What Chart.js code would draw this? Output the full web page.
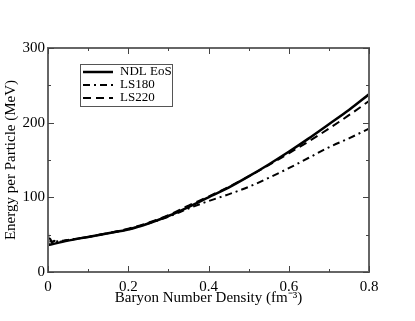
<!DOCTYPE html>
<html>
<head>
<meta charset="utf-8">
<script src="https://cdn.jsdelivr.net/npm/chart.js@4.4.0/dist/chart.umd.min.js"></script>
<style>
    html, body { margin: 0; padding: 0; background: #fff; }
    #wrap { width: 415px; height: 321px; }
</style>
</head>
<body>
<div id="wrap"><canvas id="line-chart"></canvas></div>
<script>
    // Data
    var density = [0, 0.05, 0.1, 0.15, 0.2, 0.25, 0.3, 0.35, 0.4, 0.45, 0.5, 0.55, 0.6, 0.65, 0.7, 0.75, 0.8];
    var ndlEos = [36, 42, 47, 52, 57, 65, 75, 87, 100, 113, 128, 144, 161, 179, 198, 217, 238];
    var ls180 = [38, 43, 47, 52, 57, 65, 74, 85, 95, 104, 114, 126, 139, 153, 167, 179, 192];
    var ls220 = [38, 43, 47, 52, 58, 66, 76, 89, 101, 114, 128, 143, 159, 175, 192, 210, 229];
    // very low density wiggle of the LS curves
    var lowDensity = [0, 0.002, 0.005, 0.01, 0.015, 0.02];
    var ls180Low = [53, 37, 45, 40, 43, 41];
    var ls220Low = [50, 38, 43, 39, 42, 40];
    var xTicks = [0, 0.2, 0.4, 0.6, 0.8];
    var yTicks = [0, 100, 200, 300];

    function toPoints(xs, ys) {
        return xs.map(function (x, i) { return { x: x, y: ys[i] }; });
    }

    var serif = "'Liberation Serif', 'Times New Roman', serif";
    Chart.defaults.font.family = serif;
    Chart.defaults.color = "#000";

    // frame, inward ticks and legend box
    var framePlugin = {
        id: "frame",
        afterDatasetsDraw: function (chart) {
            var ctx = chart.ctx, a = chart.chartArea;
            var xs = chart.scales.x, ys = chart.scales.y;
            ctx.save();
            ctx.strokeStyle = "#666";
            ctx.lineWidth = 2;
            ctx.strokeRect(a.left, a.top, a.right - a.left, a.bottom - a.top);
            ctx.lineWidth = 1;
            ctx.strokeStyle = "#444";
            for (var i = 0; i <= 8; i++) {
                var px = Math.round(xs.getPixelForValue(i / 10)) + 0.5;
                var len = i % 2 === 0 ? 6 : 3;
                ctx.beginPath();
                ctx.moveTo(px, a.bottom); ctx.lineTo(px, a.bottom - len);
                ctx.moveTo(px, a.top); ctx.lineTo(px, a.top + len);
                ctx.stroke();
            }
            for (var j = 0; j <= 6; j++) {
                var py = Math.round(ys.getPixelForValue(j * 50)) + 0.5;
                var l2 = j % 2 === 0 ? 6 : 3;
                ctx.beginPath();
                ctx.moveTo(a.left, py); ctx.lineTo(a.left + l2, py);
                ctx.moveTo(a.right, py); ctx.lineTo(a.right - l2, py);
                ctx.stroke();
            }
            // legend
            var bx = 80, by = 64, bw = 92, bh = 42;
            ctx.fillStyle = "#fff";
            ctx.fillRect(bx, by, bw, bh);
            ctx.strokeStyle = "#555";
            ctx.lineWidth = 1;
            ctx.strokeRect(bx + 0.5, by + 0.5, bw, bh);
            ctx.font = "13px " + serif;
            ctx.textBaseline = "middle";
            chart.data.datasets.forEach(function (ds, k) {
                if (!ds.label) return;
                var ly = by + 8 + k * 13;
                ctx.strokeStyle = "#000";
                ctx.lineWidth = ds.borderWidth;
                ctx.setLineDash(ds.borderDash || []);
                ctx.beginPath();
                ctx.moveTo(bx + 3, ly); ctx.lineTo(bx + 33, ly);
                ctx.stroke();
                ctx.setLineDash([]);
                ctx.fillStyle = "#000";
                ctx.fillText(ds.label, bx + 40, ly);
            });
            ctx.restore();
        }
    };

    var ctx1 = document.getElementById("line-chart").getContext("2d");
    var myChart1 = new Chart(ctx1, {
        type: "line",
        data: {
            datasets: [
                {
                    label: "NDL EoS",
                    data: toPoints(density, ndlEos),
                    borderColor: "#000",
                    borderWidth: 2.5,
                    pointRadius: 0,
                    cubicInterpolationMode: "monotone",
                },
                {
                    label: "LS180",
                    data: toPoints(lowDensity, ls180Low).concat(toPoints(density.slice(1), ls180.slice(1))),
                    borderColor: "#000",
                    borderWidth: 2,
                    borderDash: [7, 4, 2, 4],
                    pointRadius: 0,
                    cubicInterpolationMode: "monotone",
                },
                {
                    label: "LS220",
                    data: toPoints(lowDensity, ls220Low).concat(toPoints(density.slice(1), ls220.slice(1))),
                    borderColor: "#000",
                    borderWidth: 2,
                    borderDash: [8, 5],
                    pointRadius: 0,
                    cubicInterpolationMode: "monotone",
                },
            ],
        },
        options: {
            responsive: true,
            maintainAspectRatio: false,
            animation: false,
            layout: { padding: { top: 48, right: 46, left: 0, bottom: 0 } },
            scales: {
                x: {
                    type: "linear",
                    min: 0,
                    max: 0.8,
                    afterBuildTicks: function (s) { s.ticks = xTicks.map(function (v) { return { value: v }; }); },
                    afterFit: function (s) { s.height = 49; },
                    grid: { display: false, drawTicks: false },
                    border: { display: false },
                    ticks: { padding: 6, font: { size: 15 }, maxRotation: 0 },
                    title: {
                        display: true,
                        text: "Baryon Number Density (fm\u207B\u00B3)",
                        font: { size: 15 },
                        padding: { top: 0, bottom: 14 },
                    },
                },
                y: {
                    min: 0,
                    max: 300,
                    afterBuildTicks: function (s) { s.ticks = yTicks.map(function (v) { return { value: v }; }); },
                    afterFit: function (s) { s.width = 48; },
                    grid: { display: false, drawTicks: false },
                    border: { display: false },
                    ticks: { padding: 3, font: { size: 15 } },
                    title: {
                        display: true,
                        text: "Energy per Particle (MeV)",
                        font: { size: 15 },
                        padding: { top: 2, bottom: 0 },
                    },
                },
            },
            plugins: {
                legend: { display: false },
                tooltip: { enabled: false },
            },
        },
        plugins: [framePlugin],
    });
</script>
</body>
</html>
